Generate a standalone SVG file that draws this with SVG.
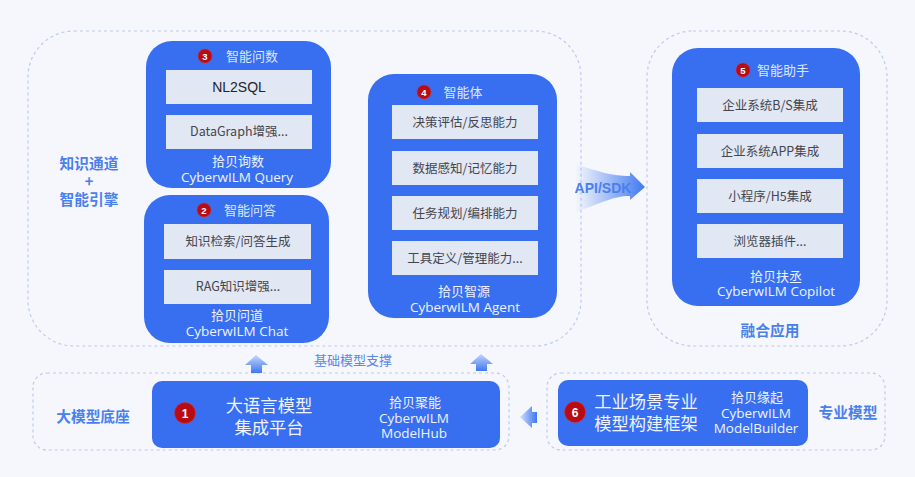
<svg xmlns="http://www.w3.org/2000/svg" width="915" height="477" viewBox="0 0 915 477">
<defs>
<linearGradient id="api" x1="0" y1="0" x2="1" y2="0"><stop offset="0" stop-color="#4a80f0" stop-opacity="0"/><stop offset="0.25" stop-color="#4a80f0" stop-opacity=".25"/><stop offset="1" stop-color="#3f78f2"/></linearGradient>
<linearGradient id="up" x1="0" y1="0" x2="0" y2="1"><stop offset="0" stop-color="#c4d6fa"/><stop offset="1" stop-color="#3f78f2"/></linearGradient>
<linearGradient id="left" x1="0" y1="0" x2="1" y2="0"><stop offset="0" stop-color="#d0defb"/><stop offset="1" stop-color="#3f78f2"/></linearGradient>
</defs>
<style>
text{font-family:"Noto Sans CJK SC","Liberation Sans",sans-serif;text-anchor:middle}
.panel{fill:#386ff0}
.slot{fill:#e1e7f3}
.slotText{font-size:12.500px;fill:#44464f}
.w{fill:#eef3ff;font-size:13px}
.en{fill:#eef3ff;font-size:13.500px;font-family:"Open Sans",sans-serif}
.head{fill:#dbe6ff;font-size:13px}
.big{fill:#eef3ff;font-size:17.300px}
.lab{fill:#4a80ee;font-size:14.700px;font-weight:700}
.dash{fill:none;stroke:#bccaf0;stroke-width:1.200;stroke-dasharray:3 3}
.badge{fill:#b80c14;stroke:#e03030;stroke-width:.5}
.num{fill:#fff;font-size:9.500px;font-weight:700;font-family:"Liberation Sans",sans-serif}
</style>
<rect width="915" height="477" fill="#f6f7fd"/>
<g id="frames">
<rect class="dash" x="28" y="31" width="553" height="315" rx="46"/>
<rect class="dash" x="647" y="31" width="240" height="315" rx="46"/>
<rect class="dash" x="33" y="373" width="476" height="77" rx="14"/>
<rect class="dash" x="547" y="373" width="338" height="77" rx="14"/>
</g>
<g id="connectors">
<path d="M256 355L268 365H262V373H251V365H245Z" fill="url(#up)"/>
<path d="M481 354L493 364H487V371H476V364H470Z" fill="url(#up)"/>
<path d="M520 417L532 406V412H537V423H532V428Z" fill="url(#left)"/>
<path d="M575 164C600 172 612 176 630 176V172L645 187L630 200V196C612 196 600 204 575 212Z" fill="url(#api)"/>
<text x="603" y="193" fill="#4a80ee" font-size="14" font-weight="700" style="font-family:'Liberation Sans',sans-serif">API/SDK</text>
</g>
<g id="node3">
<rect class="panel" x="146" y="41" width="185" height="147" rx="26"/>
<circle class="badge" cx="205" cy="56" r="7"/><text class="num" x="205" y="59.500">3</text>
<text class="head" x="252" y="61">智能问数</text>
<rect class="slot" x="166" y="70" width="146" height="34"/><text x="239" y="92" font-size="14" fill="#22252c" style="font-family:'Liberation Sans',sans-serif">NL2SQL</text>
<rect class="slot" x="166" y="115" width="146" height="34"/><text class="slotText" x="239" y="136">DataGraph增强...</text>
<text class="w" x="238" y="166">拾贝询数</text>
<text class="en" x="237" y="182">CyberwILM Query</text>
</g>
<g id="node2">
<rect class="panel" x="144" y="195" width="185" height="148" rx="26"/>
<circle class="badge" cx="204" cy="210" r="7"/><text class="num" x="204" y="213.500">2</text>
<text class="head" x="250" y="215">智能问答</text>
<rect class="slot" x="164" y="224" width="147" height="35"/><text class="slotText" x="238" y="246">知识检索/问答生成</text>
<rect class="slot" x="164" y="270" width="147" height="34"/><text class="slotText" x="238" y="291">RAG知识增强...</text>
<text class="w" x="237" y="320">拾贝问道</text>
<text class="en" x="237" y="336">CyberwILM Chat</text>
</g>
<g id="node4">
<rect class="panel" x="368" y="74" width="189" height="244" rx="26"/>
<circle class="badge" cx="424" cy="92" r="7"/><text class="num" x="424" y="95.500">4</text>
<text class="head" x="463" y="97">智能体</text>
<rect class="slot" x="392" y="105" width="146" height="34"/><text class="slotText" x="465" y="127">决策评估/反思能力</text>
<rect class="slot" x="392" y="151" width="146" height="34"/><text class="slotText" x="465" y="173">数据感知/记忆能力</text>
<rect class="slot" x="392" y="196" width="146" height="34"/><text class="slotText" x="465" y="218">任务规划/编排能力</text>
<rect class="slot" x="392" y="241" width="146" height="34"/><text class="slotText" x="465" y="263">工具定义/管理能力...</text>
<text class="w" x="464" y="296">拾贝智源</text>
<text class="en" x="465" y="312">CyberwILM Agent</text>
</g>
<g id="node5">
<rect class="panel" x="672" y="48" width="188" height="258" rx="26"/>
<circle class="badge" cx="743" cy="70" r="7"/><text class="num" x="743" y="73.500">5</text>
<text class="head" x="783" y="75">智能助手</text>
<rect class="slot" x="697" y="88" width="146" height="34"/><text class="slotText" x="770" y="110">企业系统B/S集成</text>
<rect class="slot" x="697" y="134" width="146" height="34"/><text class="slotText" x="770" y="156">企业系统APP集成</text>
<rect class="slot" x="697" y="179" width="146" height="34"/><text class="slotText" x="770" y="201">小程序/H5集成</text>
<rect class="slot" x="697" y="224" width="146" height="34"/><text class="slotText" x="770" y="246">浏览器插件...</text>
<text class="w" x="776" y="281">拾贝扶丞</text>
<text class="en" x="776" y="296">CyberwILM Copilot</text>
</g>
<g id="node1">
<rect class="panel" x="152" y="381" width="348" height="67" rx="10"/>
<circle class="badge" cx="185" cy="413" r="10.500"/><text class="num" x="185" y="417.500" style="font-size:12px">1</text>
<text class="big" x="269" y="412">大语言模型</text>
<text class="big" x="269" y="434">集成平台</text>
<text class="w" x="415" y="407">拾贝聚能</text>
<text class="en" x="414" y="422.500">CyberwILM</text>
<text class="en" x="414" y="437.500">ModelHub</text>
</g>
<g id="node6">
<rect class="panel" x="558" y="380" width="250" height="66" rx="10"/>
<circle class="badge" cx="575" cy="412" r="10.500"/><text class="num" x="575" y="416.500" style="font-size:12px">6</text>
<text class="big" x="646" y="408">工业场景专业</text>
<text class="big" x="646" y="430">模型构建框架</text>
<text class="w" x="757" y="402">拾贝缘起</text>
<text class="en" x="756" y="418">CyberwILM</text>
<text class="en" x="756" y="433">ModelBuilder</text>
</g>
<g id="labels">
<text class="lab" x="89" y="169">知识通道</text>
<text class="lab" x="89" y="187">+</text>
<text class="lab" x="89" y="205">智能引擎</text>
<text class="lab" x="93" y="422">大模型底座</text>
<text class="lab" x="848" y="418">专业模型</text>
<text class="lab" x="770" y="336">融合应用</text>
<text x="353" y="365" fill="#5b87e6" font-size="13">基础模型支撑</text>
</g>
</svg>
